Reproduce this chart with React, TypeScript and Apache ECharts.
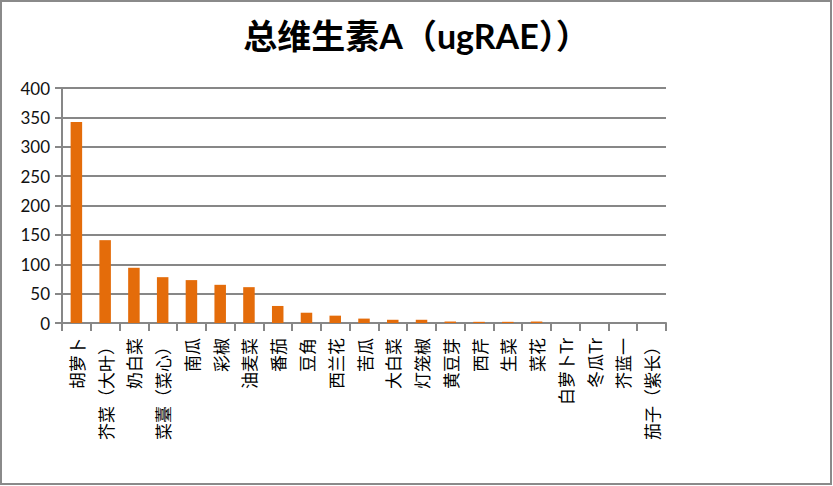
import React, { useEffect, useRef } from "react";
import * as echarts from "echarts";

const categories: string[] = [
  "胡萝卜", "芥菜（大叶）", "奶白菜", "菜薹（菜心）", "南瓜", "彩椒", "油麦菜",
  "番茄", "豆角", "西兰花", "苦瓜", "大白菜", "灯笼椒", "黄豆芽", "西芹",
  "生菜", "菜花", "白萝卜Tr", "冬瓜Tr", "芥蓝一", "茄子（紫长）",
];
const values: number[] = [
  342, 141, 94, 78, 73, 65, 61, 29, 17.5, 12.5, 7.5, 5.5, 5.5, 2.5, 2, 2, 2.5, 0, 0, 0, 0,
];
const yTicks = { min: 0, max: 400, interval: 50 };
const titleText = "总维生素A（ugRAE））";

export default function App() {
  const ref = useRef<HTMLDivElement>(null);
  useEffect(() => {
    if (!ref.current) return;
    const chart = echarts.init(ref.current, null, { renderer: "svg" });
    const gray = "#878787";
    chart.setOption({
      animation: false,
      backgroundColor: "#ffffff",
      title: {
        text: titleText,
        left: "center",
        top: 13,
        textStyle: {
          fontFamily: "Lato, 'Noto Sans CJK SC', sans-serif",
          fontSize: 34,
          fontWeight: "bold",
          color: "#000000",
        },
      },
      graphic: [
        {
          type: "rect",
          shape: { x: 1, y: 1, width: 830, height: 483 },
          style: { fill: "none", stroke: "#8a8a8a", lineWidth: 2 },
          silent: true,
        },
      ],
      grid: { left: 62, right: 167, top: 88, bottom: 163, containLabel: false },
      xAxis: {
        type: "category",
        data: categories,
        axisLine: { show: true, lineStyle: { color: gray, width: 2 } },
        axisTick: { show: true, length: 8, lineStyle: { color: gray, width: 2 } },
        axisLabel: {
          interval: 0,
          rotate: 90,
          margin: 15,
          fontSize: 17,
          color: "#000000",
          fontFamily: "'Noto Sans CJK SC', sans-serif",
        },
      },
      yAxis: {
        type: "value",
        min: yTicks.min,
        max: yTicks.max,
        interval: yTicks.interval,
        axisLine: { show: true, lineStyle: { color: gray, width: 2 } },
        axisTick: { show: true, length: 7, lineStyle: { color: gray, width: 2 } },
        splitLine: { show: true, lineStyle: { color: gray, width: 2 } },
        axisLabel: {
          margin: 12,
          fontSize: 17,
          color: "#111111",
          fontFamily: "Lato, 'Open Sans', sans-serif",
        },
      },
      series: [
        {
          type: "bar",
          data: values,
          barCategoryGap: "60%",
          itemStyle: { color: "#E46C0A" },
        },
      ],
    });
    return () => chart.dispose();
  }, []);
  return (
    <div
      ref={ref}
      style={{ position: "fixed", left: 0, top: 0, width: 833, height: 486, background: "#fff" }}
    />
  );
}
